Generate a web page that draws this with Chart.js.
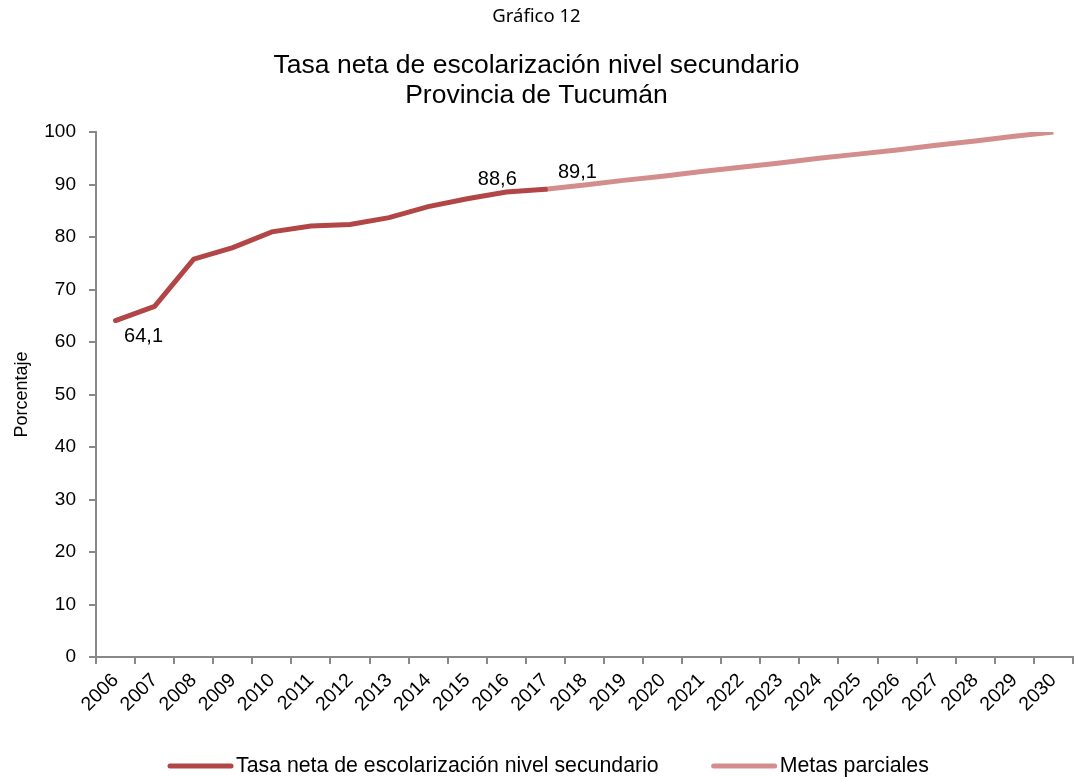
<!DOCTYPE html>
<html lang="es">
<head>
    <meta charset="UTF-8">
    <title>Gráfico 12</title>
    <style>
        body { margin: 0; background: #fff; }
    </style>
</head>
<body>
    <div style="width: 1075px; height: 777px;">
        <canvas id="chart" width="1075" height="777"></canvas>
    </div>

    <script src="https://cdn.jsdelivr.net/npm/chart.js@4.4.0/dist/chart.umd.min.js"></script>

    <script>
        // Datos
        const anios = ['2006', '2007', '2008', '2009', '2010', '2011', '2012', '2013', '2014', '2015', '2016', '2017',
            '2018', '2019', '2020', '2021', '2022', '2023', '2024', '2025', '2026', '2027', '2028', '2029', '2030'];
        // 2006 - 2017
        const tasaNeta = [64.1, 66.8, 75.8, 78.0, 81.0, 82.1, 82.4, 83.7, 85.8, 87.3, 88.6, 89.1];
        // 2017 - 2030
        const metas = [89.1, 89.9, 90.8, 91.6, 92.5, 93.3, 94.1, 95.0, 95.8, 96.6, 97.5, 98.3, 99.2, 100];
        const yTicks = [0, 10, 20, 30, 40, 50, 60, 70, 80, 90, 100];

        const fuente = 'Liberation Sans, Arial, sans-serif';
        const colorTasa = '#B24646';
        const colorMetas = '#D38D8D';

        const serieTasa = tasaNeta.concat(Array(anios.length - tasaNeta.length).fill(null));
        const serieMetas = Array(anios.length - metas.length).fill(null).concat(metas);

        // etiquetas de valor: [dataset, indice, dx, dy]
        const etiquetas = [[0, 0, 28, 16], [0, 10, -9, -12], [1, 11, 32, -17]];

        const pluginEtiquetas = {
            id: 'etiquetas',
            afterDatasetsDraw(chart) {
                const ctx = chart.ctx;
                ctx.save();
                ctx.font = '20px ' + fuente;
                ctx.fillStyle = '#000';
                ctx.textAlign = 'center';
                ctx.textBaseline = 'middle';
                etiquetas.forEach(([ds, i, dx, dy]) => {
                    const pt = chart.getDatasetMeta(ds).data[i];
                    const v = chart.data.datasets[ds].data[i];
                    ctx.fillText(v.toFixed(1).replace('.', ','), pt.x + dx, pt.y + dy);
                });
                ctx.restore();
            }
        };

        // leyenda abajo, dibujada a mano para respetar la separacion
        const pluginLeyenda = {
            id: 'leyendaAbajo',
            afterDraw(chart) {
                const ctx = chart.ctx;
                ctx.save();
                ctx.font = '21.3px ' + fuente;
                ctx.textBaseline = 'middle';
                let x = 170;
                const y = 766;
                chart.data.datasets.forEach((ds) => {
                    ctx.strokeStyle = ds.borderColor;
                    ctx.lineWidth = 5;
                    ctx.lineCap = 'round';
                    ctx.beginPath();
                    ctx.moveTo(x, y);
                    ctx.lineTo(x + 61, y);
                    ctx.stroke();
                    ctx.fillStyle = '#000';
                    ctx.fillText(ds.label, x + 66, y);
                    x += 66 + ctx.measureText(ds.label).width + 55;
                });
                ctx.restore();
            }
        };

        const data = {
            labels: anios,
            datasets: [{
                label: 'Tasa neta de escolarización nivel secundario',
                data: serieTasa,
                borderColor: colorTasa,
                backgroundColor: colorTasa,
                borderWidth: 5,
                borderCapStyle: 'round',
                pointRadius: 0,
                tension: 0
            }, {
                label: 'Metas parciales',
                data: serieMetas,
                borderColor: colorMetas,
                backgroundColor: colorMetas,
                borderWidth: 5,
                borderCapStyle: 'butt',
                pointRadius: 0,
                tension: 0
            }]
        };

        const config = {
            type: 'line',
            data: data,
            options: {
                responsive: false,
                animation: false,
                layout: { padding: { left: 0, right: 2, top: 0, bottom: 0 } },
                plugins: {
                    legend: { display: false },
                    tooltip: { enabled: false },
                    title: {
                        display: true,
                        text: 'Gráfico 12',
                        color: '#000',
                        font: { family: 'Noto Sans, sans-serif', size: 18.5, weight: 'normal', lineHeight: 1.2 },
                        padding: { top: 6, bottom: 14 }
                    },
                    subtitle: {
                        display: true,
                        text: ['Tasa neta de escolarización nivel secundario', 'Provincia de Tucumán'],
                        color: '#000',
                        font: { family: fuente, size: 26.5, lineHeight: 1.13 },
                        padding: { top: 9, bottom: 21 }
                    }
                },
                scales: {
                    x: {
                        offset: true,
                        grid: { display: true, drawOnChartArea: false, offset: true, color: '#888', tickLength: 7, lineWidth: 2 },
                        border: { display: true, color: '#888', width: 2 },
                        ticks: {
                            color: '#000',
                            font: { family: fuente, size: 19.5 },
                            autoSkip: false,
                            minRotation: 45,
                            maxRotation: 45,
                            padding: 5
                        },
                        afterFit: (s) => { s.height = 120; }
                    },
                    y: {
                        min: 0,
                        max: 100,
                        afterBuildTicks: (s) => { s.ticks = yTicks.map(v => ({ value: v })); },
                        grid: { display: true, drawOnChartArea: false, color: '#888', tickLength: 7, lineWidth: 2 },
                        border: { display: true, color: '#888', width: 2 },
                        ticks: {
                            color: '#000',
                            font: { family: fuente, size: 19 },
                            padding: 13
                        },
                        title: {
                            display: true,
                            text: 'Porcentaje',
                            color: '#000',
                            font: { family: fuente, size: 18 },
                            padding: { top: 11, bottom: 0 }
                        },
                        afterFit: (s) => { s.width = 96; }
                    }
                }
            },
            plugins: [pluginEtiquetas, pluginLeyenda]
        };

        const canvas = document.getElementById("chart").getContext("2d");
        const chart = new Chart(canvas, config);
    </script>
</body>
</html>
